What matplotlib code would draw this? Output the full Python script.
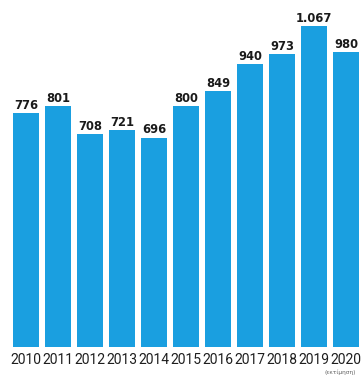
import matplotlib.pyplot as plt

years = ["2010", "2011", "2012", "2013", "2014", "2015",
         "2016", "2017", "2018", "2019", "2020"]
values = [776, 801, 708, 721, 696, 800, 849, 940, 973, 1067, 980]
value_labels = ["776", "801", "708", "721", "696", "800",
                "849", "940", "973", "1.067", "980"]

W, H = 361, 375
fig = plt.figure(figsize=(W / 100, H / 100), dpi=100)
ax = fig.add_axes([10 / W, 28 / H, 351 / W, 347 / H])

x = range(len(years))
ax.bar(x, values, width=0.84, color="#1a9fe0")

for xi, v, lab in zip(x, values, value_labels):
    ax.text(xi, v + 4, lab, ha="center", va="bottom",
            fontsize=8.3, fontweight="bold", color="#1a1a1a")

ax.set_xlim(-0.5, 10.47)
ax.set_ylim(0, 1153)
ax.set_xticks(list(x))
ax.set_xticklabels(years, fontsize=10, family="Roboto", color="#1e1e1e")
ax.tick_params(axis="x", length=0, pad=4.5)
ax.set_yticks([])
for s in ax.spines.values():
    s.set_visible(False)

fig.text(356 / W, 0, "(εκτίμηση)", ha="right", va="bottom",
         fontsize=4.2, color="#666666")

fig.savefig("out.png", dpi=100)
